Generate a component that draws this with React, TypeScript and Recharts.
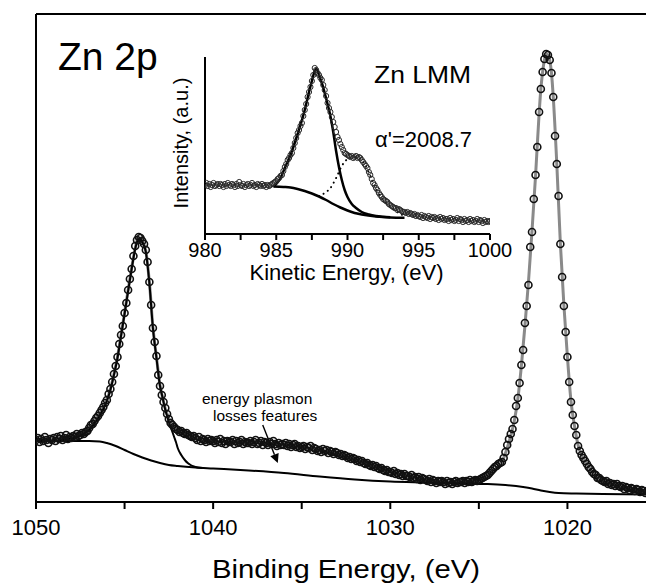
import React from 'react'
import { ComposedChart, Line, Scatter, XAxis, YAxis, ReferenceLine } from 'recharts'

const FONT = '"Liberation Sans", Arial, Helvetica, sans-serif'

// Zn 2p region, measured from 1050 eV down to 1015 eV in 0.1 eV steps
const BE_START = 1050
const BE_STEP = 0.1
const zn2pCounts = [
  6.2, 6.4, 6.0, 6.3, 6.1, 6.5, 6.2, 5.9, 6.3, 6.2,
  6.4, 6.1, 6.5, 6.3, 6.6, 6.2, 6.4, 6.7, 6.3, 6.5,
  6.4, 6.6, 6.5, 6.8, 6.6, 6.7, 6.9, 6.8, 7.0, 7.1,
  7.4, 7.7, 7.8, 8.1, 8.4, 8.6, 8.9, 9.2, 9.5, 9.9,
  10.2, 10.8, 11.3, 12.0, 12.8, 13.6, 14.5, 15.8, 16.7, 17.6,
  18.9, 19.9, 21.2, 22.3, 23.3, 24.6, 25.6, 26.2, 26.5, 26.4,
  26.1, 25.8, 25.2, 24.0, 22.0, 19.7, 17.4, 16.0, 14.6, 12.7,
  11.6, 10.7, 10.0, 9.4, 8.8, 8.3, 7.9, 7.7, 7.5, 7.3,
  7.2, 7.0, 7.1, 6.9, 6.8, 6.9, 6.7, 6.6, 6.5, 6.6,
  6.4, 6.2, 6.5, 6.1, 6.3, 6.2, 6.0, 6.3, 6.1, 6.2,
  6.1, 5.9, 6.2, 6.0, 6.3, 5.9, 6.1, 5.8, 6.1, 6.0,
  6.0, 6.2, 5.8, 6.1, 5.9, 6.0, 6.2, 5.8, 6.0, 5.9,
  5.9, 6.1, 5.8, 6.0, 6.2, 5.8, 5.9, 6.1, 5.7, 6.0,
  5.9, 5.7, 6.0, 5.8, 6.1, 5.8, 5.6, 5.9, 5.7, 5.8,
  5.7, 5.9, 5.6, 5.8, 5.5, 5.7, 5.8, 5.5, 5.6, 5.4,
  5.5, 5.6, 5.3, 5.5, 5.4, 5.6, 5.2, 5.4, 5.3, 5.1,
  5.2, 5.0, 5.3, 5.1, 5.2, 4.9, 5.1, 5.0, 4.8, 5.0,
  4.9, 4.7, 4.8, 4.6, 4.7, 4.6, 4.4, 4.5, 4.3, 4.4,
  4.3, 4.1, 4.2, 4.0, 4.1, 3.9, 3.8, 3.9, 3.7, 3.6,
  3.7, 3.5, 3.6, 3.4, 3.3, 3.4, 3.2, 3.1, 3.2, 3.0,
  3.0, 2.9, 3.1, 2.8, 2.9, 2.7, 2.8, 2.6, 2.8, 2.6,
  2.6, 2.5, 2.7, 2.4, 2.5, 2.3, 2.5, 2.2, 2.4, 2.3,
  2.2, 2.1, 2.3, 2.0, 2.2, 2.1, 1.9, 2.1, 2.0, 2.1,
  2.0, 1.8, 2.1, 1.9, 2.0, 1.8, 2.0, 2.1, 1.9, 2.0,
  2.0, 2.1, 1.9, 2.1, 2.0, 2.2, 2.0, 2.1, 2.2, 2.1,
  2.2, 2.3, 2.4, 2.5, 2.6, 2.7, 2.9, 3.1, 3.3, 3.5,
  3.6, 3.8, 3.9, 4.0, 4.4, 5.0, 5.7, 6.3, 6.8, 7.3,
  8.2, 9.6, 10.4, 11.9, 13.7, 15.2, 17.9, 19.6, 21.7, 25.5,
  27.0, 30.3, 32.7, 35.5, 39.0, 41.3, 43.0, 44.3, 44.8, 44.7,
  44.2, 42.9, 40.5, 36.6, 33.8, 30.6, 25.8, 22.5, 19.6, 17.0,
  14.5, 12.0, 10.0, 8.7, 7.6, 6.7, 5.6, 5.1, 4.7, 4.4,
  4.1, 3.8, 3.5, 3.3, 3.0, 2.8, 2.7, 2.4, 2.4, 2.2,
  2.1, 2.0, 2.1, 1.8, 1.9, 1.7, 1.8, 1.6, 1.8, 1.6,
  1.5, 1.6, 1.3, 1.5, 1.4, 1.2, 1.4, 1.3, 1.1, 1.3,
  1.2, 1.0, 1.2, 1.1, 0.9, 1.1, 1.0, 0.8, 1.0, 0.9,
  1.0,
]

// fit envelope (grey), Shirley background and the 2p1/2 component, [BE, intensity]
const zn2pEnvelope: [number, number][] = [
  [1050, 6.2], [1049, 6.35], [1048, 6.55], [1047.5, 6.75], [1047.2, 7.0], [1047, 7.4],
  [1046.8, 7.85], [1046.6, 8.35], [1046.4, 8.9], [1046.2, 9.5], [1046, 10.2], [1045.8, 11.3],
  [1045.6, 12.8], [1045.4, 14.5], [1045.2, 16.7], [1045, 18.9], [1044.8, 21.2], [1044.6, 23.4],
  [1044.4, 25.4], [1044.3, 26.1], [1044.2, 26.4], [1044.1, 26.4], [1044, 26.1], [1043.8, 25.1],
  [1043.6, 22.0], [1043.4, 17.5], [1043.2, 14.5], [1043, 11.7], [1042.8, 10.0], [1042.6, 8.8],
  [1042.4, 8.0], [1042.2, 7.5], [1042, 7.1], [1041.5, 6.6], [1041, 6.3], [1040, 6.1],
  [1039, 6.0], [1038, 5.95], [1037, 5.85], [1036, 5.7], [1035, 5.45], [1034, 5.1],
  [1033, 4.75], [1032, 4.25], [1031, 3.6], [1030, 3.0], [1029, 2.55], [1028, 2.2],
  [1027, 2.0], [1026, 2.0], [1025.5, 2.05], [1025, 2.2], [1024.6, 2.5], [1024.3, 2.9],
  [1024, 3.4], [1023.8, 3.8], [1023.6, 4.4], [1023.4, 5.4], [1023.2, 6.6], [1023, 8.1],
  [1022.8, 10.3], [1022.6, 13.6], [1022.4, 17.6], [1022.2, 22.0], [1022, 27.1], [1021.8, 32.6],
  [1021.6, 38.8], [1021.5, 41.3], [1021.4, 43.0], [1021.3, 44.2], [1021.2, 44.8], [1021.1, 44.7],
  [1021, 44.2], [1020.9, 42.9], [1020.8, 40.5], [1020.6, 33.8], [1020.4, 25.9], [1020.2, 19.7],
  [1020, 14.5], [1019.8, 10.1], [1019.6, 7.6], [1019.4, 5.7], [1019.2, 4.7], [1019, 4.1],
  [1018.6, 3.0], [1018.2, 2.4], [1018, 2.1], [1017, 1.5], [1016, 1.15], [1015, 0.95],
]

const zn2pBackground: [number, number][] = [
  [1050, 6.1], [1047, 6.1], [1046.4, 6.05], [1046, 5.9], [1045.5, 5.6], [1045, 5.2],
  [1044.5, 4.8], [1044, 4.45], [1043.5, 4.15], [1043, 3.9], [1042.5, 3.7], [1042, 3.6],
  [1041, 3.45], [1040, 3.35], [1038, 3.15], [1036, 2.9], [1034, 2.55], [1032, 2.25],
  [1030, 2.05], [1028, 1.95], [1026, 1.85], [1024.5, 1.8], [1023.5, 1.7], [1022.5, 1.5],
  [1022, 1.35], [1021.5, 1.15], [1021, 1.0], [1020.5, 0.9], [1019.5, 0.85], [1018, 0.8],
  [1015, 0.75],
]

const zn2p12Peak: [number, number][] = [
  [1048.5, 6.2], [1048, 6.35], [1047.5, 6.6], [1047, 7.2], [1046.6, 8.1], [1046.2, 9.3],
  [1046, 10.1], [1045.8, 11.2], [1045.6, 12.7], [1045.4, 14.4], [1045.2, 16.6], [1045, 18.8],
  [1044.8, 21.1], [1044.6, 23.3], [1044.4, 25.3], [1044.3, 26.0], [1044.2, 26.3], [1044.1, 26.3],
  [1044, 26.0], [1043.8, 25.0], [1043.6, 21.9], [1043.4, 17.4], [1043.2, 14.4], [1043, 11.6],
  [1042.9, 10.8], [1042.8, 10.0], [1042.7, 9.2], [1042.6, 8.6], [1042.5, 8.0], [1042.4, 7.5],
  [1042.3, 7.0], [1042.2, 6.5], [1042.1, 6.0], [1042, 5.4], [1041.8, 4.7], [1041.6, 4.2],
  [1041.4, 3.85], [1041, 3.5], [1040.6, 3.4],
]

const beTicks = [1050, 1045, 1040, 1035, 1030, 1025, 1020, 1015]

// Zn LMM Auger line, 980 to 1000 eV kinetic energy in 0.1 eV steps
const KE_START = 980
const KE_STEP = 0.1
const lmmCounts = [
  4.9, 5.1, 4.8, 5.0, 4.7, 4.9, 5.1, 4.8, 4.9, 5.0,
  4.8, 5.0, 4.9, 4.7, 5.0, 4.8, 5.1, 4.9, 4.8, 5.0,
  4.9, 4.7, 5.0, 4.8, 5.2, 4.9, 4.8, 5.0, 4.7, 4.9,
  5.0, 4.8, 4.9, 5.1, 4.8, 4.9, 4.7, 5.0, 4.9, 4.8,
  5.0, 4.8, 4.9, 4.7, 4.9, 4.8, 4.9, 5.0, 5.1, 5.2,
  5.3, 5.5, 5.6, 5.8, 5.9, 6.3, 6.7, 7.0, 7.4, 7.6,
  7.9, 8.1, 8.6, 9.1, 9.6, 10.1, 10.4, 10.8, 11.1, 11.8,
  12.4, 13.0, 13.7, 14.2, 14.7, 15.3, 15.9, 16.6, 16.4, 16.1,
  15.9, 15.6, 15.4, 14.9, 14.4, 13.8, 13.1, 12.6, 12.2, 11.7,
  11.2, 10.7, 10.2, 9.7, 9.4, 9.0, 8.7, 8.4, 8.1, 8.0,
  7.9, 7.8, 7.7, 7.8, 7.6, 7.7, 7.8, 7.6, 7.7, 7.6,
  7.4, 7.2, 7.0, 6.8, 6.6, 6.2, 5.9, 5.5, 5.1, 4.9,
  4.6, 4.4, 4.1, 3.9, 3.7, 3.5, 3.4, 3.3, 3.2, 3.0,
  2.9, 2.8, 2.7, 2.6, 2.6, 2.4, 2.5, 2.4, 2.3, 2.2,
  2.2, 2.1, 2.2, 2.0, 2.1, 2.0, 1.9, 2.0, 1.8, 1.9,
  1.8, 1.7, 1.9, 1.6, 1.8, 1.7, 1.6, 1.8, 1.5, 1.7,
  1.6, 1.7, 1.5, 1.6, 1.4, 1.7, 1.5, 1.6, 1.4, 1.5,
  1.5, 1.3, 1.6, 1.4, 1.5, 1.3, 1.4, 1.6, 1.3, 1.5,
  1.4, 1.2, 1.5, 1.3, 1.4, 1.2, 1.5, 1.3, 1.4, 1.2,
  1.3, 1.5, 1.2, 1.4, 1.3, 1.1, 1.4, 1.2, 1.3, 1.2,
  1.3,
]

const lmmBackground: [number, number][] = [
  [984.8, 4.75], [985.5, 4.7], [986, 4.65], [986.5, 4.5], [987, 4.3], [987.5, 4.05],
  [988, 3.75], [988.5, 3.4], [989, 3.0], [989.5, 2.65], [990, 2.35], [990.5, 2.1],
  [991, 1.95], [992, 1.75], [993, 1.65], [994, 1.62],
]

const lmmMainPeak: [number, number][] = [
  [984.8, 4.75], [985, 5.0], [985.3, 5.6], [985.6, 6.6], [986, 7.9], [986.5, 10.0],
  [987, 12.4], [987.3, 14.2], [987.5, 15.3], [987.7, 16.3], [987.8, 16.5], [987.9, 16.3],
  [988, 15.9], [988.2, 15.1], [988.4, 14.1], [988.6, 13.0], [988.8, 11.8], [989, 10.2],
  [989.2, 8.3], [989.4, 6.7], [989.6, 5.4], [989.8, 4.4], [990, 3.7], [990.3, 3.0],
  [990.6, 2.6], [991, 2.2], [991.5, 1.95], [992, 1.8], [993, 1.68],
]

const lmmShoulder: [number, number][] = [
  [988, 3.8], [988.4, 4.1], [988.8, 4.6], [989.2, 5.6], [989.6, 6.8], [990, 7.5],
  [990.4, 7.7], [990.8, 7.6], [991.2, 7.0], [991.6, 5.8], [992, 4.5], [992.4, 3.6],
  [992.8, 3.0], [993.2, 2.5], [993.6, 2.1], [994, 1.8],
]

const keTicks = [980, 982.5, 985, 987.5, 990, 992.5, 995, 997.5, 1000]

const zn2pPoints = zn2pCounts.map((v, i) => ({ be: Math.round((BE_START - i * BE_STEP) * 10) / 10, v }))
const lmmPoints = lmmCounts.map((v, i) => ({ ke: Math.round((KE_START + i * KE_STEP) * 10) / 10, v }))
const asBE = (pairs: [number, number][]) => pairs.map(([be, v]) => ({ be, v }))
const asKE = (pairs: [number, number][]) => pairs.map(([ke, v]) => ({ ke, v }))

const openCircle = (r: number, stroke: string, width: number) => (props: any) =>
  <circle cx={props.cx} cy={props.cy} r={r} fill="none" stroke={stroke} strokeWidth={width} />

function PlasmonArrow(props: any) {
  const { x1, y1, x2, y2 } = props
  const ang = Math.atan2(y2 - y1, x2 - x1)
  const len = 9
  const half = 4.5
  const bx = x2 - len * Math.cos(ang)
  const by = y2 - len * Math.sin(ang)
  const px = -Math.sin(ang) * half
  const py = Math.cos(ang) * half
  return (
    <g>
      <line x1={x1} y1={y1} x2={bx} y2={by} stroke="#000" strokeWidth={1.4} />
      <polygon points={`${x2},${y2} ${bx + px},${by + py} ${bx - px},${by - py}`} fill="#000" />
    </g>
  )
}

const axisStroke = { stroke: '#000', strokeWidth: 2 }

export default function App() {
  return (
    <div style={{ position: 'absolute', left: 0, top: 0, width: 646, height: 587, overflow: 'hidden', background: '#fff' }}>
      <ComposedChart width={660} height={587} margin={{ top: 13, right: 4, bottom: 45, left: 35 }}>
        <XAxis
          dataKey="be"
          type="number"
          domain={[1015, 1050]}
          reversed
          allowDataOverflow
          ticks={beTicks}
          interval={0}
          tickFormatter={(t: number) => (t % 10 === 0 ? String(t) : '')}
          tickSize={7}
          tickMargin={10}
          height={40}
          axisLine={axisStroke}
          tickLine={axisStroke}
          tick={{ fontSize: 22, fill: '#000', fontFamily: FONT }}
        />
        <XAxis
          xAxisId="top"
          dataKey="be"
          type="number"
          orientation="top"
          domain={[1015, 1050]}
          reversed
          allowDataOverflow
          height={1}
          tick={false}
          tickLine={false}
          axisLine={axisStroke}
        />
        <YAxis dataKey="v" type="number" domain={[0, 48.8]} width={1} tick={false} tickLine={false} axisLine={axisStroke} />
        <Line data={asBE(zn2pEnvelope)} dataKey="v" type="monotone" stroke="#8a8a8a" strokeWidth={3} dot={false} isAnimationActive={false} />
        <Line data={asBE(zn2pBackground)} dataKey="v" type="monotone" stroke="#000" strokeWidth={2} dot={false} isAnimationActive={false} />
        <Line data={asBE(zn2p12Peak)} dataKey="v" type="monotone" stroke="#000" strokeWidth={2} dot={false} isAnimationActive={false} />
        <Scatter data={zn2pPoints} dataKey="v" shape={openCircle(3.5, '#111', 1.6)} isAnimationActive={false} />
        <ReferenceLine segment={[{ x: 1037.2, y: 7.7 }, { x: 1036.35, y: 3.9 }]} shape={PlasmonArrow} />
      </ComposedChart>

      <ComposedChart
        width={646}
        height={300}
        margin={{ top: 57, right: 156, bottom: 26, left: 204 }}
        style={{ position: 'absolute', left: 0, top: 0 }}
      >
        <XAxis
          dataKey="ke"
          type="number"
          domain={[980, 1000]}
          allowDataOverflow
          ticks={keTicks}
          interval={0}
          tickFormatter={(t: number) => (t % 5 === 0 ? String(t) : '')}
          tickSize={6}
          tickMargin={3}
          height={40}
          axisLine={axisStroke}
          tickLine={axisStroke}
          tick={{ fontSize: 20, fill: '#000', fontFamily: FONT }}
        />
        <YAxis dataKey="v" type="number" domain={[0, 17.7]} width={1} tick={false} tickLine={false} axisLine={axisStroke} />
        <Line data={asKE(lmmShoulder)} dataKey="v" type="monotone" stroke="#000" strokeWidth={2} strokeDasharray="0.1 5" strokeLinecap="round" dot={false} isAnimationActive={false} />
        <Scatter data={lmmPoints} dataKey="v" shape={openCircle(2.6, '#2a2a2a', 1)} isAnimationActive={false} />
        <Line data={asKE(lmmBackground)} dataKey="v" type="monotone" stroke="#000" strokeWidth={2.5} dot={false} isAnimationActive={false} />
        <Line data={asKE(lmmMainPeak)} dataKey="v" type="monotone" stroke="#000" strokeWidth={2.5} dot={false} isAnimationActive={false} />
      </ComposedChart>

      <svg width={646} height={587} style={{ position: 'absolute', left: 0, top: 0, pointerEvents: 'none' }} fontFamily={FONT} fill="#000">
        <text x={58} y={70} fontSize={39}>Zn 2p</text>
        <text x={346} y={578} fontSize={26} textAnchor="middle" textLength={268} lengthAdjust="spacingAndGlyphs">Binding Energy, (eV)</text>
        <text x={346.5} y={280} fontSize={22} textAnchor="middle">Kinetic Energy, (eV)</text>
        <text x={188} y={143} fontSize={20} textAnchor="middle" transform="rotate(-90 188 143)">Intensity, (a.u.)</text>
        <text x={374} y={83} fontSize={23} textLength={97} lengthAdjust="spacingAndGlyphs">Zn LMM</text>
        <text x={375} y={147} fontSize={22}>α'=2008.7</text>
        <text x={202} y={404} fontSize={15.5}>energy plasmon</text>
        <text x={213} y={421} fontSize={15.5}>losses features</text>
      </svg>
    </div>
  )
}
